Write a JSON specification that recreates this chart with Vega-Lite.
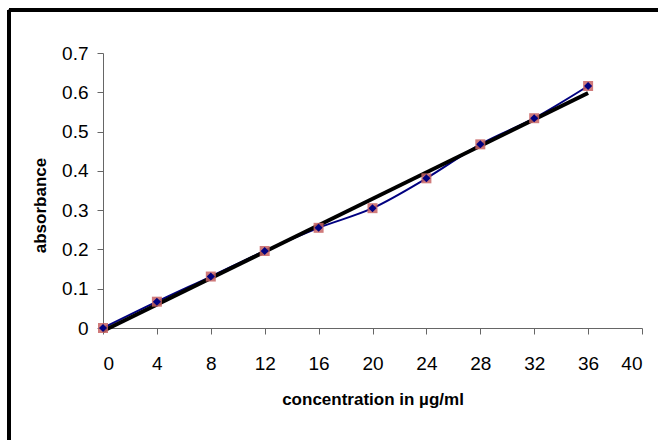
{
  "$schema": "https://vega.github.io/schema/vega-lite/v6.json",
  "width": 539,
  "height": 275,
  "autosize": {"type": "none"},
  "padding": {"left": 103, "top": 53, "right": 16, "bottom": 112},
  "background": "white",
  "config": {
    "view": {"stroke": null},
    "font": "Liberation Sans",
    "axis": {
      "grid": false,
      "domainColor": "#666666",
      "tickColor": "#666666",
      "domainWidth": 1,
      "tickWidth": 1,
      "ticks": true,
      "tickSize": 6,
      "labelOverlap": false,
      "labelColor": "#000000",
      "labelFont": "Liberation Sans",
      "labelFontSize": 19,
      "titleFont": "Liberation Sans",
      "titleFontWeight": "bold",
      "titleFontSize": 17,
      "titleColor": "#000000"
    }
  },
  "data": {
    "values": [
      {"conc": 0, "abs": 0.0},
      {"conc": 4, "abs": 0.067},
      {"conc": 8, "abs": 0.131},
      {"conc": 12, "abs": 0.196},
      {"conc": 16, "abs": 0.255},
      {"conc": 20, "abs": 0.305},
      {"conc": 24, "abs": 0.381},
      {"conc": 28, "abs": 0.4675},
      {"conc": 32, "abs": 0.534},
      {"conc": 36, "abs": 0.616}
    ]
  },
  "encoding": {
    "x": {
      "field": "conc", "type": "quantitative",
      "scale": {"domain": [0, 40], "nice": false, "zero": false},
      "axis": {
        "values": [0, 4, 8, 12, 16, 20, 24, 28, 32, 36, 40],
        "title": "concentration in µg/ml",
        "labelPadding": 20,
        "titlePadding": 18
      }
    },
    "y": {
      "field": "abs", "type": "quantitative",
      "scale": {"domain": [0, 0.7], "nice": false},
      "axis": {
        "values": [0, 0.1, 0.2, 0.3, 0.4, 0.5, 0.6, 0.7],
        "format": "~g",
        "title": "absorbance",
        "labelPadding": 9,
        "titlePadding": 12,
        "titleY": 152
      }
    }
  },
  "layer": [
    {
      "mark": {"type": "line", "color": "#000080", "strokeWidth": 2, "interpolate": "monotone"}
    },
    {
      "transform": [{"regression": "abs", "on": "conc", "method": "linear"}],
      "mark": {"type": "line", "color": "black", "strokeWidth": 4}
    },
    {
      "mark": {"type": "point", "shape": "square", "filled": true, "color": "#C86464", "opacity": 0.85, "size": 100}
    },
    {
      "mark": {"type": "point", "shape": "diamond", "filled": true, "color": "#000080", "opacity": 1, "size": 65}
    },
    {
      "mark": {"type": "rule", "color": "black", "strokeWidth": 3, "clip": false},
      "encoding": {
        "x": {"datum": -6.98, "type": "quantitative"},
        "y": {"datum": 0.8094, "type": "quantitative"},
        "y2": {"datum": -0.4}
      }
    },
    {
      "mark": {"type": "rule", "color": "black", "strokeWidth": 3, "clip": false},
      "encoding": {
        "x": {"datum": -6.98, "type": "quantitative"},
        "x2": {"datum": 42},
        "y": {"datum": 0.8094, "type": "quantitative"}
      }
    }
  ]
}
